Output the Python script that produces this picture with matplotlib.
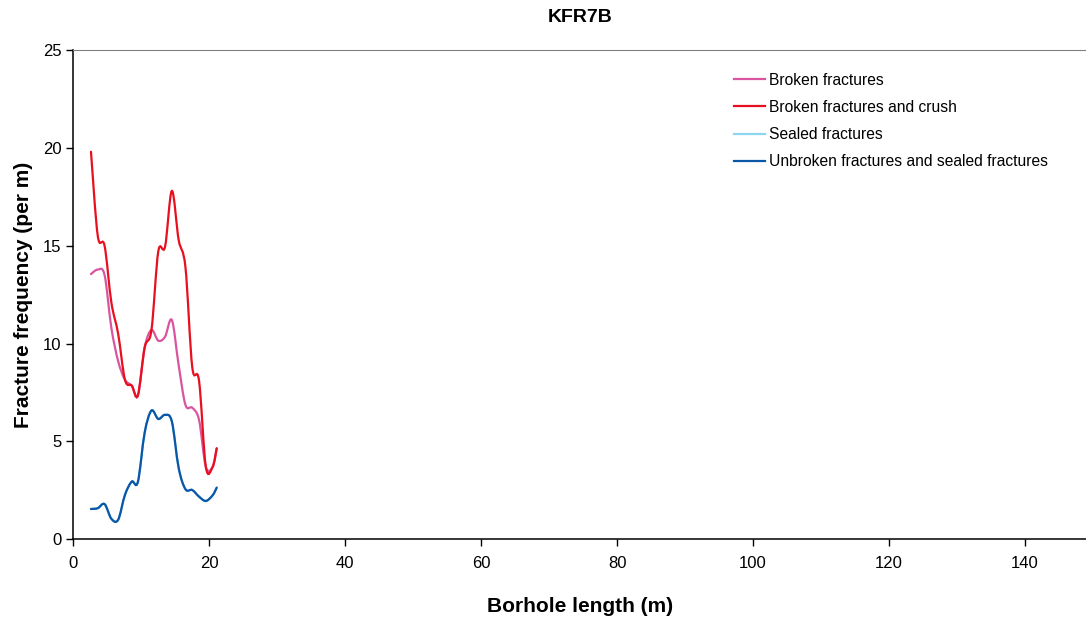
import matplotlib

matplotlib.use("Agg")
import matplotlib.pyplot as plt
import numpy as np
from matplotlib.lines import Line2D
from matplotlib.patches import PathPatch
from matplotlib.path import Path

plt.rcParams["font.family"] = ["Liberation Sans", "DejaVu Sans"]

# borehole length (m)
length = [2.6, 3.6, 4.6, 5.6, 6.6, 7.6, 8.6, 9.5, 10.5, 11.5,
          12.5, 13.5, 14.5, 15.5, 16.5, 17.5, 18.5, 19.5, 20.5, 21.1]
broken = [13.55, 13.78, 13.5, 10.8, 9.1, 8.15, 7.85, 7.35, 9.8, 10.7,
          10.15, 10.35, 11.2, 8.9, 6.87, 6.72, 6.1, 3.7, 3.7, 4.65]
broken_crush = [19.8, 15.5, 15.0, 12.1, 10.5, 8.15, 7.85, 7.35, 9.8, 10.7,
                14.7, 14.95, 17.8, 15.3, 13.9, 8.8, 8.1, 3.7, 3.7, 4.65]
sealed = [1.55, 1.59, 1.8, 1.05, 1.0, 2.27, 2.95, 2.93, 5.45, 6.58,
          6.15, 6.36, 6.02, 3.65, 2.56, 2.52, 2.18, 1.96, 2.25, 2.64]
unbroken_sealed = [1.55, 1.59, 1.8, 1.05, 1.0, 2.27, 2.95, 2.93, 5.45, 6.58,
                   6.15, 6.36, 6.02, 3.65, 2.56, 2.52, 2.18, 1.96, 2.25, 2.64]

series = [
    ("Broken fractures", broken, "#d9559f"),
    ("Broken fractures and crush", broken_crush, "#e8101e"),
    ("Sealed fractures", sealed, "#8dd6f0"),
    ("Unbroken fractures and sealed fractures", unbroken_sealed, "#0b56a6"),
]


def smooth_path(xs, ys):
    # Excel style smoothed line: Catmull-Rom segments as cubic Beziers
    pts = np.column_stack([xs, ys]).astype(float)
    verts = [pts[0]]
    codes = [Path.MOVETO]
    n = len(pts)
    for i in range(n - 1):
        p0 = pts[max(i - 1, 0)]
        p1 = pts[i]
        p2 = pts[i + 1]
        p3 = pts[min(i + 2, n - 1)]
        c1 = p1 + (p2 - p0) / 6.0
        c2 = p2 - (p3 - p1) / 6.0
        verts += [c1, c2, p2]
        codes += [Path.CURVE4] * 3
    return Path(verts, codes)


fig = plt.figure(figsize=(10.86, 6.24), dpi=100)
ax = fig.add_axes([0.0675, 0.1357, 0.9325, 0.7842])

handles = []
for label, values, color in series:
    patch = PathPatch(smooth_path(length, values), facecolor="none",
                      edgecolor=color, lw=1.6, capstyle="round")
    ax.add_patch(patch)
    handles.append(Line2D([0], [0], color=color, lw=1.6, label=label))

ax.set_xlim(0, 149)
ax.set_ylim(0, 25)
ax.set_xticks(np.arange(0, 141, 20))
ax.set_yticks(np.arange(0, 26, 5))
ax.tick_params(axis="both", labelsize=12, direction="out", length=5, width=1)
ax.tick_params(axis="x", pad=7)
ax.spines["right"].set_visible(False)
ax.spines["top"].set_color("#808080")
ax.spines["top"].set_linewidth(0.8)
ax.spines["left"].set_linewidth(1.1)
ax.spines["bottom"].set_linewidth(1.1)

ax.set_xlabel("Borhole length (m)", fontsize=15, fontweight="bold", labelpad=19)
ax.set_ylabel("Fracture frequency (per m)", fontsize=15, fontweight="bold", labelpad=7)
fig.suptitle("KFR7B", x=0.534, y=0.985, fontsize=14, fontweight="bold")

fig.legend(handles=handles, loc="upper left", bbox_to_anchor=(0.663, 0.906),
           frameon=False, fontsize=11.25, handlelength=1.95, handletextpad=0.3,
           labelspacing=0.78)

fig.savefig("out.png", dpi=100)
